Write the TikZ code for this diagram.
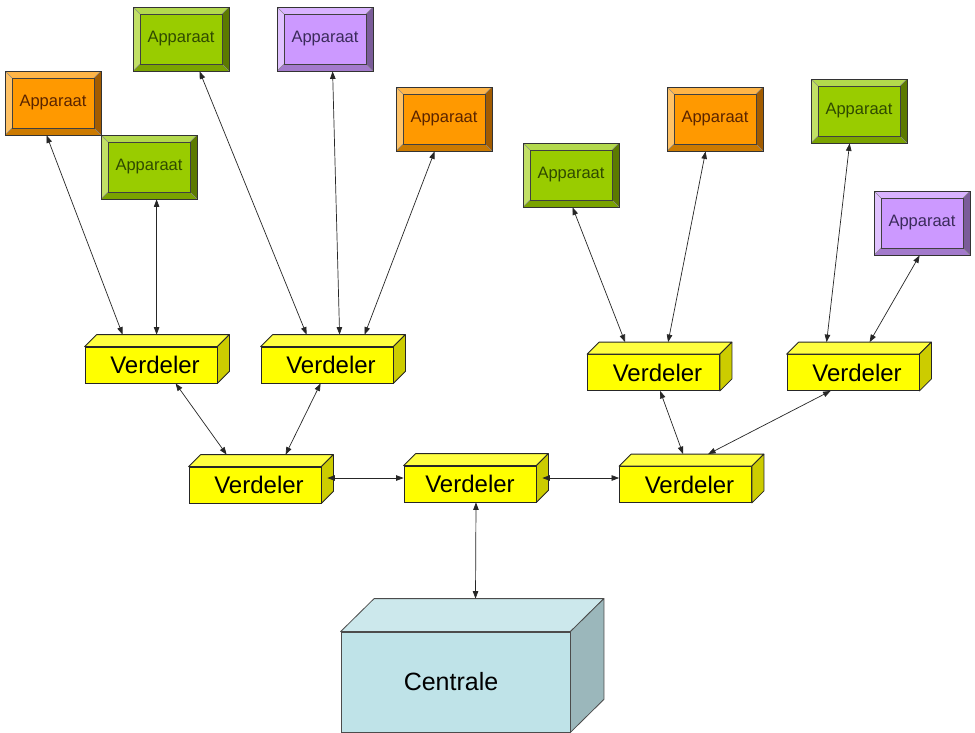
\documentclass[tikz,border=0pt]{standalone}
\usepackage{fontspec}
\setmainfont{Liberation Sans}
\usetikzlibrary{arrows.meta}
\definecolor{orFace}{HTML}{FF9900}
\definecolor{orTop}{HTML}{FFB547}
\definecolor{orLeft}{HTML}{FFC266}
\definecolor{orBot}{HTML}{CC7A00}
\definecolor{orRight}{HTML}{A35C00}
\definecolor{orText}{HTML}{5A2400}
\definecolor{grFace}{HTML}{99CC00}
\definecolor{grTop}{HTML}{B3D94D}
\definecolor{grLeft}{HTML}{C2E066}
\definecolor{grBot}{HTML}{7AA300}
\definecolor{grRight}{HTML}{5C7A00}
\definecolor{grText}{HTML}{2F4A00}
\definecolor{puFace}{HTML}{CC99FF}
\definecolor{puTop}{HTML}{D9B3FF}
\definecolor{puLeft}{HTML}{E0C2FF}
\definecolor{puBot}{HTML}{A37ACC}
\definecolor{puRight}{HTML}{7A5C99}
\definecolor{puText}{HTML}{3A2A5A}
\definecolor{vFront}{HTML}{FFFF00}
\definecolor{vTop}{HTML}{FFFF40}
\definecolor{vRight}{HTML}{CCCC00}
\definecolor{cFront}{HTML}{BFE3E8}
\definecolor{cTop}{HTML}{CCE8EC}
\definecolor{cRight}{HTML}{9BB7BB}
\tikzset{
  bev/.style n args={6}{draw=black!80, line width=0.8pt, fill=#1,
    minimum width=96pt, minimum height=64pt, inner sep=0pt,
    font=\fontsize{16.5}{18}\selectfont, text=#6,
    path picture={
      \path (path picture bounding box.north west) coordinate (bNW)
            (path picture bounding box.north east) coordinate (bNE)
            (path picture bounding box.south west) coordinate (bSW)
            (path picture bounding box.south east) coordinate (bSE);
      \fill[#2] (bNW) -- (bNE) -- ([shift={(-7pt,-7pt)}]bNE) -- ([shift={(7pt,-7pt)}]bNW) -- cycle;
      \fill[#3] (bNW) -- ([shift={(7pt,-7pt)}]bNW) -- ([shift={(7pt,7pt)}]bSW) -- (bSW) -- cycle;
      \fill[#4] (bSW) -- (bSE) -- ([shift={(-7pt,7pt)}]bSE) -- ([shift={(7pt,7pt)}]bSW) -- cycle;
      \fill[#5] (bNE) -- (bSE) -- ([shift={(-7pt,7pt)}]bSE) -- ([shift={(-7pt,-7pt)}]bNE) -- cycle;
      \draw[black!45, line width=0.4pt] (bNW) -- ([shift={(7pt,-7pt)}]bNW) (bNE) -- ([shift={(-7pt,-7pt)}]bNE)
            (bSW) -- ([shift={(7pt,7pt)}]bSW) (bSE) -- ([shift={(-7pt,7pt)}]bSE);
      \draw[black!75, line width=0.6pt] ([shift={(7pt,-7pt)}]bNW) rectangle ([shift={(-7pt,7pt)}]bSE);
    }},
  orbox/.style={bev={orFace}{orTop}{orLeft}{orBot}{orRight}{orText}},
  grbox/.style={bev={grFace}{grTop}{grLeft}{grBot}{grRight}{grText}},
  pubox/.style={bev={puFace}{puTop}{puLeft}{puBot}{puRight}{puText}},
  verd/.style={draw=black!85, line width=0.8pt, fill=vFront, minimum width=132pt,
    minimum height=36pt, inner sep=0pt, font=\fontsize{24}{26}\selectfont},
  face/.style={draw=black!85, line width=0.8pt, line join=round},
  cent/.style={draw=black!70, line width=0.8pt, fill=cFront, minimum width=229pt,
    minimum height=100pt, inner sep=0pt, font=\fontsize{25}{28}\selectfont},
  conn/.style={draw=black!85, line width=0.7pt, >={Triangle[length=7.5pt,width=5.5pt]}, <->}
}
\begin{document}
\begin{tikzpicture}[x=1pt, y=-1pt]
\useasboundingbox (0,0) rectangle (975,732);
\clip (0,0) rectangle (975,732);
\fill[white] (0,0) rectangle (975,732);

% Apparaat boxes
\node[orbox] (a1) at (53,103) {Apparaat};
\node[grbox] (a2) at (149,167) {Apparaat};
\node[grbox] (a3) at (181,39) {Apparaat};
\node[pubox] (a4) at (325,39) {Apparaat};
\node[orbox] (a5) at (444,119) {Apparaat};
\node[grbox] (a6) at (571,175) {Apparaat};
\node[orbox] (a7) at (715,119) {Apparaat};
\node[grbox] (a8) at (859,111) {Apparaat};
\node[pubox] (a9) at (922,223) {Apparaat};

% Verdeler boxes
\node[verd] (v1) at (151,365) {\hspace*{8pt}Verdeler};
\node[verd] (v2) at (327,365) {\hspace*{8pt}Verdeler};
\node[verd] (v3) at (255,485) {\hspace*{8pt}Verdeler};
\node[verd] (v4) at (470,484) {Verdeler};
\node[verd] (v5) at (685.5,484.5) {\hspace*{8pt}Verdeler};
\node[verd] (v6) at (653.5,372.5) {\hspace*{8pt}Verdeler};
\node[verd] (v7) at (853,372.5) {\hspace*{8pt}Verdeler};
\foreach \n in {v1,v2,v3,v4,v5,v6,v7} {
  \filldraw[face, fill=vTop] (\n.north west) -- ([shift={(12pt,12pt)}]\n.north west)
     -- ([shift={(12pt,12pt)}]\n.north east) -- (\n.north east) -- cycle;
  \filldraw[face, fill=vRight] (\n.north east) -- ([shift={(12pt,12pt)}]\n.north east)
     -- ([shift={(12pt,12pt)}]\n.south east) -- (\n.south east) -- cycle;
}

% Centrale
\node[cent] (cen) at (455.5,682) {Centrale\hspace*{9pt}};
\filldraw[draw=black!70, line width=0.8pt, line join=round, fill=cTop]
  (cen.north west) -- ([shift={(33.5pt,33pt)}]cen.north west)
  -- ([shift={(33.5pt,33pt)}]cen.north east) -- (cen.north east) -- cycle;
\filldraw[draw=black!70, line width=0.8pt, line join=round, fill=cRight]
  (cen.north east) -- ([shift={(33.5pt,33pt)}]cen.north east)
  -- ([shift={(33.5pt,33pt)}]cen.south east) -- (cen.south east) -- cycle;

% Connectors
\draw[conn] ([xshift=42pt]a1.south west) -- ([shift={(38pt,12pt)}]v1.north west);
\draw[conn] ([xshift=56pt]a2.south west) -- ([shift={(72pt,12pt)}]v1.north west);
\draw[conn] ([xshift=67pt]a3.south west) -- ([shift={(46pt,12pt)}]v2.north west);
\draw[conn] ([xshift=56pt]a4.south west) -- ([shift={(79pt,12pt)}]v2.north west);
\draw[conn] ([xshift=39pt]a5.south west) -- ([shift={(104pt,12pt)}]v2.north west);
\draw[conn] ([xshift=50pt]a6.south west) -- ([shift={(38pt,12pt)}]v6.north west);
\draw[conn] ([xshift=39pt]a7.south west) -- ([shift={(81pt,12pt)}]v6.north west);
\draw[conn] ([xshift=39pt]a8.south west) -- ([shift={(40pt,12pt)}]v7.north west);
\draw[conn] ([xshift=46pt]a9.south west) -- ([shift={(83pt,12pt)}]v7.north west);
\draw[conn] ([xshift=91pt]v1.south west) -- ([shift={(38pt,12pt)}]v3.north west);
\draw[conn] ([xshift=60pt]v2.south west) -- ([shift={(97pt,12pt)}]v3.north west);
\draw[conn] ([shift={(6pt,7pt)}]v3.east) -- ([yshift=6pt]v4.west);
\draw[conn] ([shift={(6pt,6pt)}]v4.east) -- ([yshift=6.5pt]v5.west);
\draw[conn] ([xshift=6pt]v4.south) -- ([shift={(20pt,33pt)}]cen.north);
\draw[conn] ([xshift=73pt]v6.south west) -- ([shift={(64pt,12pt)}]v5.north west);
\draw[conn] ([xshift=44pt]v7.south west) -- ([shift={(89pt,12pt)}]v5.north west);
\end{tikzpicture}
\end{document}
